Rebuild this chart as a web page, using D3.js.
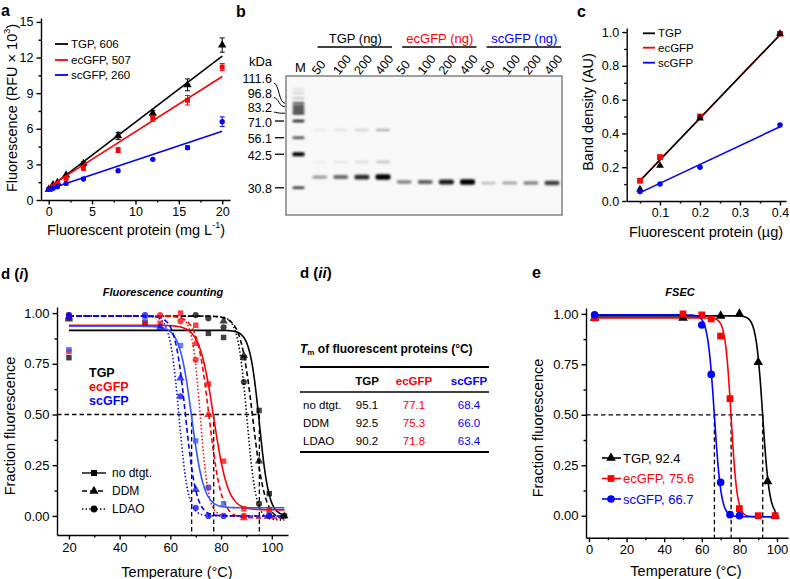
<!DOCTYPE html>
<html><head><meta charset="utf-8">
<script src="https://cdn.jsdelivr.net/npm/d3@7"></script>
<style>body{margin:0;background:#fff}</style>
</head><body><script>
// ---------------- DATA ----------------
// Panel a
const aConc   = [0, 0.5, 1, 2, 4, 8, 12, 16, 20];
const aTGP    = [0.9, 1.27, 1.46, 2.1, 3.08, 5.4, 7.3, 9.7, 13.05];
const aTGPErr = [0.05, 0.05, 0.05, 0.1, 0.15, 0.3, 0.25, 0.5, 0.6];
const aEc     = [0.9, 1.12, 1.4, 1.82, 2.67, 4.2, 6.88, 8.4, 11.2];
const aEcErr  = [0.05, 0.05, 0.05, 0.1, 0.15, 0.2, 0.25, 0.4, 0.3];
const aSc     = [0.9, 0.98, 1.12, 1.4, 1.77, 2.47, 3.43, 4.41, 6.6];
const aScErr  = [0.05, 0.05, 0.05, 0.05, 0.1, 0.1, 0.1, 0.15, 0.4];
const aFitSlope = [0.556, 0.465, 0.245];
const aFitInt   = [1.0, 1.1, 0.9];
const aFitStart = [0.5, 0.5, 0];
const aLegend   = ["TGP, 606", "ecGFP, 507", "scGFP, 260"];
const aXTicks = [0, 5, 10, 15, 20];
const aYTicks = [0, 3, 6, 9, 12, 15];

// Panel b (gel)
const gelGroups   = ["TGP", "ecGFP", "scGFP"];
const gelAmounts  = ["50", "100", "200", "400"];
const markerKDa   = ["111.6", "96.8", "83.2", "71.0", "56.1", "42.5", "30.8"];
const markerLabelBand = [3, 4, 6, 7, 8, 9, 10];
const markerBandRf  = [0.096, 0.124, 0.160, 0.196, 0.221, 0.245, 0.268, 0.324, 0.444, 0.563, 0.804];
const markerBandInt = [0.08, 0.12, 0.18, 0.65, 0.8, 0.85, 0.85, 0.9, 0.7, 1.0, 0.8];
const bandRf  = [0.727, 0.763, 0.770];
const bandInt = [[0.28, 0.5, 0.8, 1.0], [0.4, 0.55, 0.85, 1.0], [0.12, 0.25, 0.4, 0.7]];
const tgpMinorRf  = [0.388, 0.619];
const tgpMinorInt = [[0.06, 0.09, 0.14, 0.28], [0.04, 0.07, 0.11, 0.22]];

// Panel c
const cAmt = [0.05, 0.1, 0.2, 0.4];
const cTGP = [0.07, 0.21, 0.49, 0.99];
const cEc  = [0.12, 0.26, 0.50, 0.99];
const cSc  = [0.056, 0.10, 0.20, 0.45];
const cFitSlope = [2.47, 2.47, 1.114];
const cFitInt   = [-0.004, -0.004, -0.006];
const cLegend = ["TGP", "ecGFP", "scGFP"];
const cXTicks = [0.1, 0.2, 0.3, 0.4];
const cYTicks = [0, 0.2, 0.4, 0.6, 0.8, 1.0];

// Panel d
const tmRows = ["no dtgt.", "DDM", "LDAO"];
const tmTGP  = [95.1, 92.5, 90.2];
const tmEc   = [77.1, 75.3, 71.8];
const tmSc   = [68.4, 66.0, 63.4];
const dTemps = [20, 50, 56, 64, 70, 75, 81, 89, 95, 99, 105];
const dTGPnone = [0.78, 0.95, null, null, null, 0.90, 0.88, 0.78, 0.52, 0.11, 0.0];
const dTGPddm  = [0.97, null, null, null, null, null, 0.96, 0.79, 0.27, null, 0.0];
const dTGPldao = [0.98, null, null, null, 0.99, 0.975, 0.93, 0.66, 0.06, null, null];
const dEcNone  = [0.81, 0.95, 0.95, 1.0, 0.94, 0.65, 0.27, 0.035, null, 0.03, null];
const dEcDdm   = [0.98, null, null, null, 0.85, 0.5, null, -0.01, null, 0.0, null];
const dEcLdao  = [0.99, null, 0.99, 0.96, 0.77, 0.14, null, 0.0, null, null, null];
const dScNone  = [0.82, 0.97, null, 0.84, 0.37, 0.14, 0.06, null, null, 0.01, null];
const dScDdm   = [0.98, null, 0.93, 0.68, 0.13, null, null, null, null, null, null];
const dScLdao  = [0.99, 0.99, null, 0.59, 0.04, 0.0, 0.0, null, null, 0.0, null];
const dTop    = [[0.915, 0.985, 0.985], [0.94, 0.985, 0.985], [0.935, 0.985, 0.985]];
const dBottom = [[0.0, -0.02, -0.02], [0.03, -0.01, 0.0], [0.04, 0.0, 0.0]];
const dSlope  = [[1.9, 2.4, 1.8], [2.8, 2.4, 1.6], [2.4, 2.1, 1.8]];
const dXTicks = [20, 40, 60, 80, 100];
const fracTicks = [0, 0.25, 0.5, 0.75, 1.0];

// Panel e
const eTemps = [3, 50, 60, 65, 70, 75, 80, 90, 95, 99];
const eTGP = [0.98, 0.98, null, null, 0.99, null, 1.0, 0.76, 0.17, 0.0];
const eEc  = [0.98, 1.0, 0.995, 0.975, 0.89, 0.58, 0.035, 0.0, null, 0.0];
const eSc  = [0.995, null, 0.945, 0.70, 0.165, 0.005, 0.0, null, null, null];
const eTm     = [92.4, 75.6, 66.7];
const eTop    = [0.99, 0.98, 0.995];
const eBottom = [0.0, -0.005, -0.005];
const eSlope  = [1.8, 1.6, 1.8];
const eNames  = ["TGP", "ecGFP", "scGFP"];
const eXTicks = [0, 20, 40, 60, 80, 100];

// ---------------- SETUP ----------------
const FONT = '"Liberation Sans", Arial, Helvetica, sans-serif';
const BLACK = "#000", RED = "#ff0000", BLUE = "#0000ff", BLUE2 = "#3355ff";
const protColors = [BLACK, RED, BLUE];
const svg = d3.select("body").append("svg").attr("width", 790).attr("height", 579)
  .attr("font-family", FONT);

function txt(g, x, y, s, o = {}) {
  const t = g.append("text").attr("x", x).attr("y", y)
    .attr("font-size", o.fs || 12).attr("fill", o.fill || BLACK)
    .attr("text-anchor", o.anchor || "start").attr("dominant-baseline", "central").text(s);
  if (o.bold) t.attr("font-weight", "bold");
  if (o.italic) t.attr("font-style", "italic");
  if (o.rot) t.attr("transform", `rotate(${o.rot},${x},${y})`);
  return t;
}

function drawAxes(g, x, y, o) {
  const y0 = y.range()[0], x0 = x.range()[0];
  const style = sel => {
    sel.attr("font-family", null).attr("font-size", null);
    sel.selectAll(".domain,.tick line").attr("stroke", BLACK).attr("stroke-width", 1.4);
    sel.selectAll("text").attr("font-size", o.fs).attr("fill", BLACK).attr("font-family", FONT);
  };
  if (o.xm) g.append("g").attr("transform", `translate(0,${y0})`)
    .call(d3.axisBottom(x).tickValues(o.xm).tickFormat("").tickSize(2.5).tickSizeOuter(0))
    .call(style).select(".domain").remove();
  if (o.ym) g.append("g").attr("transform", `translate(${x0},0)`)
    .call(d3.axisLeft(y).tickValues(o.ym).tickFormat("").tickSize(2.5).tickSizeOuter(0))
    .call(style).select(".domain").remove();
  g.append("g").attr("transform", `translate(0,${y0})`)
    .call(d3.axisBottom(x).tickValues(o.xt).tickFormat(o.xf).tickSize(4.5).tickSizeOuter(0).tickPadding(3))
    .call(style);
  g.append("g").attr("transform", `translate(${x0},0)`)
    .call(d3.axisLeft(y).tickValues(o.yt).tickFormat(o.yf).tickSize(4.5).tickSizeOuter(0).tickPadding(3))
    .call(style);
}

const symTri = d3.symbolTriangle, symSq = d3.symbolSquare, symCir = d3.symbolCircle;
function marker(g, sym, size, x, y, color, op = 1) {
  g.append("path").attr("d", d3.symbol().type(sym).size(size)())
    .attr("transform", `translate(${x},${y})`).attr("fill", color).attr("fill-opacity", op);
}

// ---------------- PANEL a ----------------
{
  const g = svg.append("g");
  txt(g, 1, 10, "a", { fs: 16, bold: true });
  const x = d3.scaleLinear().domain([-0.89, 20.9]).range([41, 230]);
  const y = d3.scaleLinear().domain([0, 15.33]).range([200, 18]);
  drawAxes(g, x, y, { xt: aXTicks, xm: [2.5, 7.5, 12.5, 17.5], yt: aYTicks, ym: [1.5, 4.5, 7.5, 10.5, 13.5], fs: 12.5, xf: d3.format("d"), yf: d3.format("d") });
  const series = [[aTGP, aTGPErr], [aEc, aEcErr], [aSc, aScErr]];
  const shapes = [[symTri, 30], [symSq, 24], [symCir, 22]];
  series.forEach((s, i) => {
    const c = protColors[i];
    g.append("line").attr("x1", x(aFitStart[i])).attr("y1", y(aFitSlope[i] * aFitStart[i] + aFitInt[i]))
      .attr("x2", x(20)).attr("y2", y(aFitSlope[i] * 20 + aFitInt[i])).attr("stroke", c).attr("stroke-width", 1.6);
    aConc.forEach((cx, j) => {
      const e = s[1][j];
      if (e > 0.12) {
        g.append("line").attr("x1", x(cx)).attr("x2", x(cx)).attr("y1", y(s[0][j] - e)).attr("y2", y(s[0][j] + e)).attr("stroke", c).attr("stroke-width", 1);
        [-e, e].forEach(d => g.append("line").attr("x1", x(cx) - 2.5).attr("x2", x(cx) + 2.5).attr("y1", y(s[0][j] + d)).attr("y2", y(s[0][j] + d)).attr("stroke", c).attr("stroke-width", 1));
      }
      marker(g, shapes[i][0], shapes[i][1], x(cx), y(s[0][j]), c);
    });
  });
  aLegend.forEach((l, i) => {
    const ly = [44, 60, 75][i];
    g.append("line").attr("x1", 55).attr("x2", 68).attr("y1", ly).attr("y2", ly).attr("stroke", protColors[i]).attr("stroke-width", 1.8);
    txt(g, 71, ly, l, { fs: 11.5 });
  });
  txt(g, 12, 108, "", { fs: 14.5, anchor: "middle", rot: -90 }).call(t => {
    t.append("tspan").text("Fluorescence (RFU × 10");
    t.append("tspan").text("3").attr("font-size", 9).attr("dy", -5);
    t.append("tspan").text(")").attr("dy", 5);
  });
  txt(g, 136, 230, "", { fs: 14.5, anchor: "middle" }).call(t => {
    t.append("tspan").text("Fluorescent protein (mg L");
    t.append("tspan").text("-1").attr("font-size", 9).attr("dy", -5);
    t.append("tspan").text(")").attr("dy", 5);
  });
}

// ---------------- PANEL b ----------------
{
  const g = svg.append("g");
  txt(g, 236, 11, "b", { fs: 16, bold: true });
  const defs = svg.append("defs");
  defs.append("filter").attr("id", "blur").attr("x", "-50%").attr("y", "-100%").attr("width", "200%").attr("height", "300%")
    .append("feGaussianBlur").attr("stdDeviation", "1.2 0.8");
  const gelX0 = 286, gelX1 = 562, gelY0 = 76, gelY1 = 215;
  const lanes = ["M"].concat(d3.merge(gelGroups.map(gr => gelAmounts.map(a => gr + "-" + a))));
  const lx = d3.scalePoint().domain(lanes).range([298.5, 552]);
  const ry = d3.scaleLinear().domain([0, 1]).range([gelY0, gelY1]);
  g.append("rect").attr("x", gelX0).attr("y", gelY0).attr("width", gelX1 - gelX0).attr("height", gelY1 - gelY0)
    .attr("fill", "#f8f8f8").attr("stroke", "#6e6e6e").attr("stroke-width", 1.3);
  const bands = g.append("g").attr("filter", "url(#blur)");
  markerBandRf.forEach((rf, i) => {
    const h = i === 9 ? 4.2 : 2.6;
    bands.append("rect").attr("x", lx("M") - 6).attr("y", ry(rf) - h / 2).attr("width", 12).attr("height", h)
      .attr("rx", 1.3).attr("fill", "#000").attr("opacity", markerBandInt[i]);
  });
  gelGroups.forEach((gr, gi) => {
    gelAmounts.forEach((a, ai) => {
      const cx = lx(gr + "-" + a), it = bandInt[gi][ai];
      const h = 2.4 + 3.0 * it;
      bands.append("rect").attr("x", cx - 7.5).attr("y", ry(bandRf[gi]) - h / 2).attr("width", 15).attr("height", h)
        .attr("rx", 2).attr("fill", "#000").attr("opacity", Math.min(1, 0.12 + it * 0.9));
      if (gi === 0) tgpMinorRf.forEach((rf, k) => {
        bands.append("rect").attr("x", cx - 7).attr("y", ry(rf) - 1.3).attr("width", 14).attr("height", 2.6)
          .attr("rx", 1.3).attr("fill", "#000").attr("opacity", tgpMinorInt[k][ai]);
      });
      txt(g, cx - 5, 73, a, { fs: 12.5, rot: -52 });
    });
    const first = lx(gr + "-" + gelAmounts[0]), last = lx(gr + "-" + gelAmounts[3]);
    g.append("line").attr("x1", first - 2).attr("x2", last + 9).attr("y1", 47).attr("y2", 47).attr("stroke", BLACK).attr("stroke-width", 1.3);
    txt(g, (first + last) / 2 + 4, 38, gr + " (ng)", { fs: 13, anchor: "middle", fill: protColors[gi] });
  });
  txt(g, lx("M") + 2, 67, "M", { fs: 13, anchor: "middle" });
  txt(g, 272, 61, "kDa", { fs: 13, anchor: "end" });
  let prev = 1e9;
  const labY = [];
  for (let k = markerKDa.length - 1; k >= 0; k--) {
    const by = ry(markerBandRf[markerLabelBand[k]]);
    const ly = Math.min(by + 1.5, prev - 14.5);
    labY[k] = ly; prev = ly;
  }
  markerKDa.forEach((m, k) => {
    const by = ry(markerBandRf[markerLabelBand[k]]), ly = labY[k];
    txt(g, 272, ly, m, { fs: 12.5, anchor: "end" });
    if (Math.abs(by - ly) < 3) {
      g.append("line").attr("x1", 275).attr("x2", 284).attr("y1", by).attr("y2", by).attr("stroke", BLACK).attr("stroke-width", 1.3);
    } else {
      g.append("path").attr("d", `M274,${ly + 4} C279,${ly + 5} 279,${by} 285,${by}`).attr("fill", "none").attr("stroke", BLACK).attr("stroke-width", 1);
    }
  });
}

// ---------------- PANEL c ----------------
{
  const g = svg.append("g");
  txt(g, 577, 11, "c", { fs: 16, bold: true });
  const x = d3.scaleLinear().domain([0.01675, 0.415]).range([626.7, 786]);
  const y = d3.scaleLinear().domain([0, 1.024]).range([201, 28]);
  drawAxes(g, x, y, { xt: cXTicks, xm: [0.05, 0.15, 0.25, 0.35], yt: cYTicks, ym: [0.1, 0.3, 0.5, 0.7, 0.9], fs: 12.5, xf: d3.format(".1f"), yf: d3.format(".1f") });
  const vals = [cTGP, cEc, cSc];
  const shapes = [[symTri, 26], [symSq, 34], [symCir, 24]];
  [1, 0, 2].forEach(i => {
    g.append("line").attr("x1", x(0.05)).attr("y1", y(cFitSlope[i] * 0.05 + cFitInt[i]))
      .attr("x2", x(0.4)).attr("y2", y(cFitSlope[i] * 0.4 + cFitInt[i])).attr("stroke", protColors[i]).attr("stroke-width", 1.6);
  });
  [1, 0, 2].forEach(i => cAmt.forEach((a, j) => marker(g, shapes[i][0], shapes[i][1], x(a), y(vals[i][j]), protColors[i])));
  cLegend.forEach((l, i) => {
    const ly = [33.3, 47.7, 62.7][i];
    g.append("line").attr("x1", 643).attr("x2", 655).attr("y1", ly).attr("y2", ly).attr("stroke", protColors[i]).attr("stroke-width", 1.8);
    txt(g, 658, ly, l, { fs: 11.5 });
  });
  txt(g, 588, 112, "Band density (AU)", { fs: 14.5, anchor: "middle", rot: -90 });
  txt(g, 706, 232, "Fluorescent protein (µg)", { fs: 14.5, anchor: "middle" });
}

// ---------------- PANEL d(i) ----------------
const boltz = (top, bottom, tm, s, T) => bottom + (top - bottom) / (1 + Math.exp((T - tm) / s));
const dashes = [null, "5,3", "1.4,2.2"];
{
  const g = svg.append("g");
  txt(g, 1, 273, "", { fs: 15, bold: true }).call(t => {
    t.append("tspan").text("d (");
    t.append("tspan").text("i").attr("font-style", "italic");
    t.append("tspan").text(")");
  });
  const x = d3.scaleLinear().domain([15.3, 106.4]).range([57, 288]);
  const y = d3.scaleLinear().domain([-0.094, 1.03]).range([535, 307]);
  drawAxes(g, x, y, { xt: dXTicks, xm: [30, 50, 70, 90], yt: fracTicks, ym: [0.125, 0.375, 0.625, 0.875], fs: 13, xf: d3.format("d"), yf: d3.format(".2f") });
  txt(g, 163, 292, "Fluorescence counting", { fs: 11, bold: true, italic: true, anchor: "middle" });
  const dash = "4.5,3";
  g.append("line").attr("x1", x.range()[0]).attr("x2", x(tmTGP[0])).attr("y1", y(0.5)).attr("y2", y(0.5)).attr("stroke", BLACK).attr("stroke-width", 1.3).attr("stroke-dasharray", dash);
  [tmTGP[0], tmEc[0], tmSc[0]].forEach(t => g.append("line").attr("x1", x(t)).attr("x2", x(t)).attr("y1", y(0.5)).attr("y2", y.range()[0]).attr("stroke", BLACK).attr("stroke-width", 1.3).attr("stroke-dasharray", dash));
  const tms = [tmTGP, tmEc, tmSc];
  const pts = [[dTGPnone, dTGPddm, dTGPldao], [dEcNone, dEcDdm, dEcLdao], [dScNone, dScDdm, dScLdao]];
  const syms = [[symSq, 30], [symTri, 30], [symCir, 30]];
  const line = d3.line().x(d => x(d[0])).y(d => y(d[1]));
  const Ts = d3.range(20, 105.01, 0.25);
  [0, 1, 2].forEach(p => [0, 1, 2].forEach(dt => {
    const col = (p === 2 && dt === 0) ? BLUE2 : protColors[p];
    g.append("path").attr("d", line(Ts.map(T => [T, boltz(dTop[p][dt], dBottom[p][dt], tms[p][dt], dSlope[p][dt], T)])))
      .attr("fill", "none").attr("stroke", col).attr("stroke-width", 1.6).attr("stroke-dasharray", dashes[dt]);
  }));
  [0, 1, 2].forEach(p => [0, 1, 2].forEach(dt => {
    const col = (p === 2 && dt === 0) ? BLUE2 : protColors[p];
    dTemps.forEach((T, j) => { const v = pts[p][dt][j]; if (v !== null) marker(g, syms[dt][0], syms[dt][1], x(T), y(v), col, 0.75); });
  }));
  ["TGP", "ecGFP", "scGFP"].forEach((n, i) => txt(g, 89, [373, 387, 401][i], n, { fs: 12.5, bold: true, fill: protColors[i] }));
  tmRows.forEach((r, i) => {
    const ly = [473, 491, 509][i];
    g.append("line").attr("x1", 82).attr("x2", 106).attr("y1", ly).attr("y2", ly).attr("stroke", BLACK).attr("stroke-width", 1.4).attr("stroke-dasharray", dashes[i]);
    marker(g, syms[i][0], syms[i][1] + 6, 94, ly, BLACK);
    txt(g, 112, ly, r, { fs: 12 });
  });
  txt(g, 10, 426, "Fraction fluorescence", { fs: 14.5, anchor: "middle", rot: -90 });
  txt(g, 177, 572, "Temperature (°C)", { fs: 14.5, anchor: "middle" });
}

// ---------------- PANEL d(ii) table ----------------
{
  const g = svg.append("g");
  txt(g, 300, 272, "", { fs: 15, bold: true }).call(t => {
    t.append("tspan").text("d (");
    t.append("tspan").text("ii").attr("font-style", "italic");
    t.append("tspan").text(")");
  });
  txt(g, 300, 349, "", { fs: 12, bold: true }).call(t => {
    t.append("tspan").text("T").attr("font-style", "italic");
    t.append("tspan").text("m").attr("font-size", 8).attr("dy", 3);
    t.append("tspan").text(" of fluorescent proteins (°C)").attr("dy", -3);
  });
  const x0 = 300, x1 = 489;
  g.append("line").attr("x1", x0).attr("x2", x1).attr("y1", 367).attr("y2", 367).attr("stroke", BLACK).attr("stroke-width", 2);
  g.append("line").attr("x1", x0).attr("x2", x1).attr("y1", 392).attr("y2", 392).attr("stroke", BLACK).attr("stroke-width", 1.4);
  g.append("line").attr("x1", x0).attr("x2", x1).attr("y1", 452).attr("y2", 452).attr("stroke", BLACK).attr("stroke-width", 2);
  const colX = [367, 414, 469];
  ["TGP", "ecGFP", "scGFP"].forEach((n, i) => txt(g, colX[i], 381, n, { fs: 11.5, bold: true, anchor: "middle", fill: protColors[i] }));
  const cols = [tmTGP, tmEc, tmSc];
  tmRows.forEach((r, j) => {
    const ry = [405, 423, 441][j];
    txt(g, 303, ry, r, { fs: 11.5 });
    cols.forEach((c, i) => txt(g, colX[i], ry, d3.format(".1f")(c[j]), { fs: 11.5, anchor: "middle", fill: protColors[i] }));
  });
}

// ---------------- PANEL e ----------------
{
  const g = svg.append("g");
  txt(g, 532, 272, "e", { fs: 16, bold: true });
  const x = d3.scaleLinear().domain([-1.6, 105.85]).range([586, 788]);
  const y = d3.scaleLinear().domain([-0.109, 1.029]).range([537.7, 308]);
  drawAxes(g, x, y, { xt: eXTicks, xm: [10, 30, 50, 70, 90], yt: fracTicks, ym: [0.125, 0.375, 0.625, 0.875], fs: 13, xf: d3.format("d"), yf: d3.format(".2f") });
  txt(g, 680, 292, "FSEC", { fs: 11, bold: true, italic: true, anchor: "middle" });
  const dash = "4.5,3";
  g.append("line").attr("x1", x.range()[0]).attr("x2", x(eTm[0])).attr("y1", y(0.5)).attr("y2", y(0.5)).attr("stroke", BLACK).attr("stroke-width", 1.3).attr("stroke-dasharray", dash);
  eTm.forEach(t => g.append("line").attr("x1", x(t)).attr("x2", x(t)).attr("y1", y(0.5)).attr("y2", y.range()[0]).attr("stroke", BLACK).attr("stroke-width", 1.3).attr("stroke-dasharray", dash));
  const line = d3.line().x(d => x(d[0])).y(d => y(d[1]));
  const Ts = d3.range(3, 99.01, 0.25);
  [0, 1, 2].forEach(i => g.append("path").attr("d", line(Ts.map(T => [T, boltz(eTop[i], eBottom[i], eTm[i], eSlope[i], T)])))
    .attr("fill", "none").attr("stroke", protColors[i]).attr("stroke-width", 1.6));
  const vals = [eTGP, eEc, eSc];
  const syms = [[symTri, 40], [symSq, 46], [symCir, 46]];
  [0, 1, 2].forEach(i => eTemps.forEach((T, j) => { const v = vals[i][j]; if (v !== null) marker(g, syms[i][0], syms[i][1], x(T), y(v), protColors[i]); }));
  eNames.forEach((n, i) => {
    const ly = [458, 478.5, 499][i];
    g.append("line").attr("x1", 602).attr("x2", 621).attr("y1", ly).attr("y2", ly).attr("stroke", protColors[i]).attr("stroke-width", 1.6);
    marker(g, syms[i][0], syms[i][1], 611, ly, protColors[i]);
    txt(g, 623, ly, n + ", " + d3.format(".1f")(eTm[i]), { fs: 13, fill: protColors[i] });
  });
  txt(g, 538, 428, "Fraction fluorescence", { fs: 14.5, anchor: "middle", rot: -90 });
  txt(g, 686, 571, "Temperature (°C)", { fs: 14.5, anchor: "middle" });
}
</script></body></html>
